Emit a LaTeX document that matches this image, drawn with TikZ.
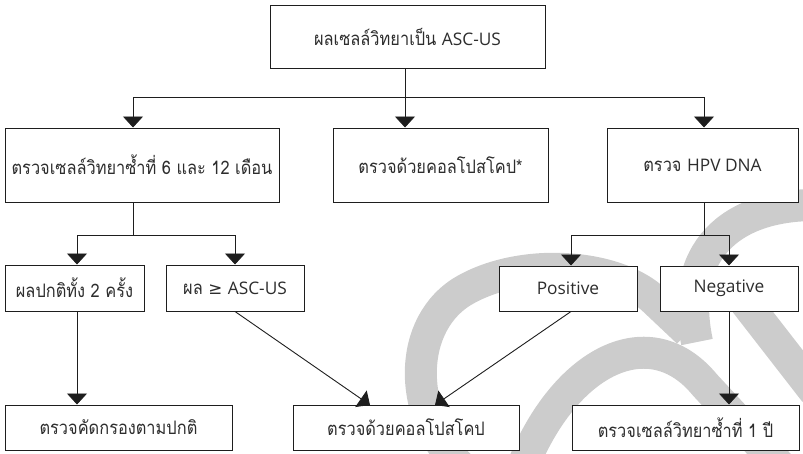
\documentclass[tikz,border=0pt]{standalone}
\usepackage{fontspec}
\usetikzlibrary{arrows.meta}
\newfontfamily\thaifont[Script=Thai,FakeStretch=0.88]{Loma}
\newfontfamily\latinfont[Scale=0.93]{Open Sans}
\newfontfamily\symfont[Scale=0.9]{DejaVu Sans}
\definecolor{wm}{RGB}{204,204,204}
\definecolor{ink}{RGB}{30,30,30}
\definecolor{txt}{RGB}{45,45,45}
\begin{document}
\begin{tikzpicture}[x=1pt,y=-1pt,
  box/.style={draw=ink,fill=white,line width=1pt,inner sep=0pt,align=center,text=txt,font=\thaifont\fontsize{18.6}{21}\selectfont},
  conn/.style={draw=ink,line width=0.9pt},
  arr/.style={conn,-{Triangle[width=20pt,length=11pt]}},
  wmark/.style={draw=wm,line width=32pt}]
\useasboundingbox (0,0) rectangle (803,453);
% watermark
\draw[wmark] (462,468) .. controls (410,420) and (405,330) .. (460,293) .. controls (515,258) and (610,262) .. (652,298) -- (688,332);
\draw[wmark] (522,468) .. controls (565,360) and (650,318) .. (705,385) -- (782,468);
\draw[wmark] (742,298) -- (815,392);
\draw[wmark] (697,342) .. controls (678,252) and (730,205) .. (815,205);
% boxes
\node[box,minimum width=275pt,minimum height=63pt] (top) at (407.5,36.5) {ผลเซลล์วิทยาเป็น {\latinfont ASC-US}};
\node[box,minimum width=274pt,minimum height=74pt] (l2a) at (142,165) {ตรวจเซลล์วิทยาซ้ำที่ 6 และ 12 เดือน};
\node[box,minimum width=215pt,minimum height=74pt] (l2b) at (440.5,165) {ตรวจด้วยคอลโปสโคป*};
\node[box,minimum width=191pt,minimum height=74pt] (l2c) at (702.5,165) {ตรวจ {\latinfont HPV DNA}};
\node[box,minimum width=139pt,minimum height=46pt] (l3a) at (74.5,288) {ผลปกติทั้ง 2 ครั้ง};
\node[box,minimum width=138pt,minimum height=46pt] (l3b) at (235,288) {ผล {\symfont ≥} {\latinfont ASC-US}};
\node[box,minimum width=138pt,minimum height=45pt] (l3c) at (568,288.5) {{\latinfont Positive}};
\node[box,minimum width=138pt,minimum height=45pt] (l3d) at (729,288.5) {{\latinfont Negative}};
\node[box,minimum width=227pt,minimum height=45pt] (l4a) at (118.5,427.5) {ตรวจคัดกรองตามปกติ};
\node[box,minimum width=226pt,minimum height=45pt] (l4b) at (406,427.5) {ตรวจด้วยคอลโปสโคป};
\node[box,minimum width=227pt,minimum height=45pt] (l4c) at (685.5,427.5) {ตรวจเซลล์วิทยาซ้ำที่ 1 ปี};
% junctions
\coordinate (j1) at (405,97);
\coordinate (j1a) at (133,97);
\coordinate (j1c) at (704,97);
\coordinate (j2) at (133,235);
\coordinate (j2a) at (77,235);
\coordinate (j2b) at (235,235);
\coordinate (j3) at (704,235);
\coordinate (j3a) at (571,235);
\coordinate (j3b) at (729,235);
\coordinate (t4b1) at (370,405);
\coordinate (t4b2) at (435,405);
% connectors
\draw[conn] (j1 |- top.south) -- (j1);
\draw[conn] (j1a) -- (j1c);
\draw[arr] (j1a) -- (j1a |- l2a.north);
\draw[arr] (j1) -- (j1 |- l2b.north);
\draw[arr] (j1c) -- (j1c |- l2c.north);
\draw[conn] (j2 |- l2a.south) -- (j2);
\draw[conn] (j2a) -- (j2b);
\draw[arr] (j2a) -- (j2a |- l3a.north);
\draw[arr] (j2b) -- (j2b |- l3b.north);
\draw[conn] (j3 |- l2c.south) -- (j3);
\draw[conn] (j3a) -- (j3b);
\draw[arr] (j3a) -- (j3a |- l3c.north);
\draw[arr] (j3b) -- (j3b |- l3d.north);
\draw[arr] (j2a |- l3a.south) -- (j2a |- l4a.north);
\draw[arr] (j2b |- l3b.south) -- (t4b1);
\draw[arr] (j3a |- l3c.south) -- (t4b2);
\draw[arr] (j3b |- l3d.south) -- (j3b |- l4c.north);
\end{tikzpicture}
\end{document}
